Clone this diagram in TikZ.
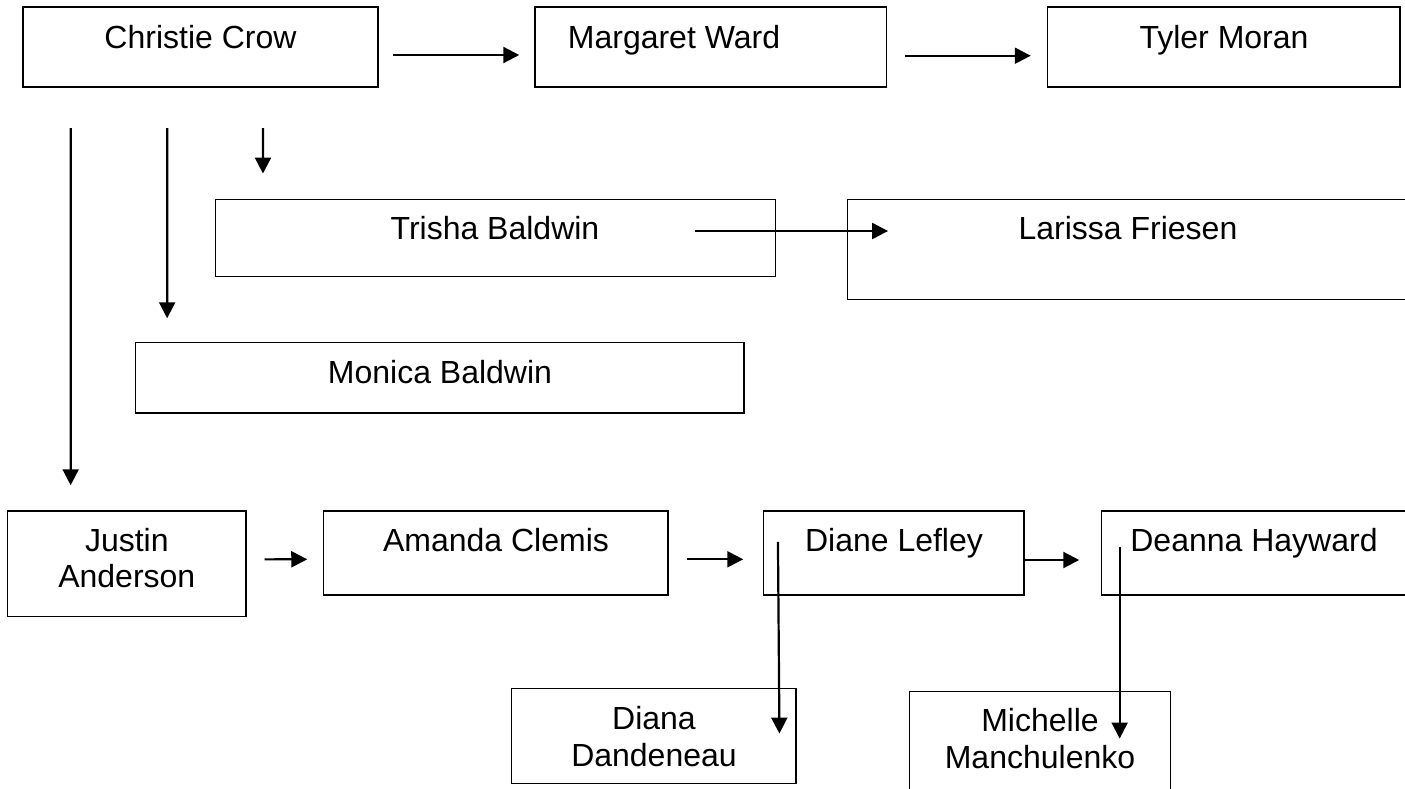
\documentclass[tikz,border=0pt]{standalone}
\usepackage{fontspec}
\setmainfont{Liberation Sans}
\usetikzlibrary{arrows.meta,calc}
\tikzset{
  box/.style={draw=black, line width=1.5pt, rectangle, inner sep=0pt, fill=none},
  lbl/.style={anchor=base, inner sep=0pt, font=\fontsize{32}{36.7}\selectfont},
  arr/.style={line width=2.2pt, -{Triangle[length=16pt,width=16pt]}},
}
\newcommand{\twoline}[2]{\begin{tabular}[t]{@{}c@{}}#1\\#2\end{tabular}}
\begin{document}
\begin{tikzpicture}[x=1pt,y=-1pt]
\useasboundingbox (0,0) rectangle (1405,788);
\clip (0,0) rectangle (1405,788);
\fill[white] (0,0) rectangle (1405,788);
% boxes
\node[box, minimum width=355pt, minimum height=80pt] (cc) at (200.5,47) {};
\node[box, minimum width=351.5pt, minimum height=80pt] (mw) at (710.75,47) {};
\node[box, minimum width=352.5pt, minimum height=80pt] (tm) at (1223.75,47) {};
\node[box, minimum width=560pt, minimum height=77.4pt] (tb) at (495.5,238) {};
\node[box, minimum width=572pt, minimum height=100pt] (lf) at (1133.5,249.3) {};
\node[box, minimum width=608.2pt, minimum height=70.3pt] (mb) at (439.8,377.85) {};
\node[box, minimum width=238.3pt, minimum height=105.7pt] (ja) at (126.85,563.85) {};
\node[box, minimum width=344.4pt, minimum height=84pt] (ac) at (495.7,553) {};
\node[box, minimum width=260.6pt, minimum height=84pt] (dl) at (893.7,553) {};
\node[box, minimum width=318.5pt, minimum height=84pt] (dh) at (1260.75,553) {};
\node[box, minimum width=284.3pt, minimum height=94.6pt] (dd) at (653.85,736) {};
\node[box, minimum width=260.8pt, minimum height=108.3pt] (mm) at (1039.9,745.85) {};
% labels
\node[lbl] (tcc) at (200.5,48) {Christie Crow};
\node[lbl] (tmw) at (674,48) {Margaret Ward};
\node[lbl] (ttm) at (1224,48) {Tyler Moran};
\node[lbl] (ttb) at (495,239) {Trisha Baldwin};
\node[lbl] (tlf) at (1128,239) {Larissa Friesen};
\node[lbl] (tmb) at (440,383) {Monica Baldwin};
\node[lbl] (tja) at (126.8,551) {\twoline{Justin}{Anderson}};
\node[lbl] (tac) at (496,551) {Amanda Clemis};
\node[lbl] (tdl) at (894,551.7) {Diane Lefley};
\node[lbl] (tdh) at (1254,551.7) {Deanna Hayward};
\node[lbl] (tdd) at (654,729.3) {\twoline{Diana}{Dandeneau}};
\node[lbl] (tmm) at (1040,731.7) {\twoline{Michelle}{Manchulenko}};
% connectors
\draw[arr] ($(cc.east)+(14,8)$) -- ($(mw.west)+(-15,8)$);
\draw[arr] ($(mw.east)+(18,8.7)$) -- ($(tm.west)+(-16,8.7)$);
\draw[arr] ($(tb.east)+(-81.5,-7)$) -- ($(lf.west)+(41.3,-18.3)$);
\draw[arr] ($(cc.south west)+(48.4,40.3)$) -- ($(ja.north west)+(63.7,-25)$);
\draw[arr] ($(cc.south west)+(144.9,40.3)$) -- ($(mb.north west)+(32.2,-23.7)$);
\draw[arr] ($(cc.south west)+(240.8,40.3)$) -- ($(tb.north west)+(48.2,-25)$);
\draw[arr] ($(ja.east)+(17.8,-4.5)$) -- ($(ac.west)+(-15.5,6.3)$);
\draw[arr] ($(ac.east)+(18.1,6.3)$) -- ($(dl.west)+(-19.4,6.3)$);
\draw[arr] ($(dl.east)+(-1.2,7)$) -- ($(dh.west)+(-21.5,7)$);
\draw[arr] ($(dl.north west)+(15.3,31.7)$) -- ($(dd.north east)+(-17.3,45.6)$);
\draw[arr] ($(dh.north west)+(18.9,36.3)$) -- ($(mm.north west)+(210.9,47.6)$);
\end{tikzpicture}
\end{document}
